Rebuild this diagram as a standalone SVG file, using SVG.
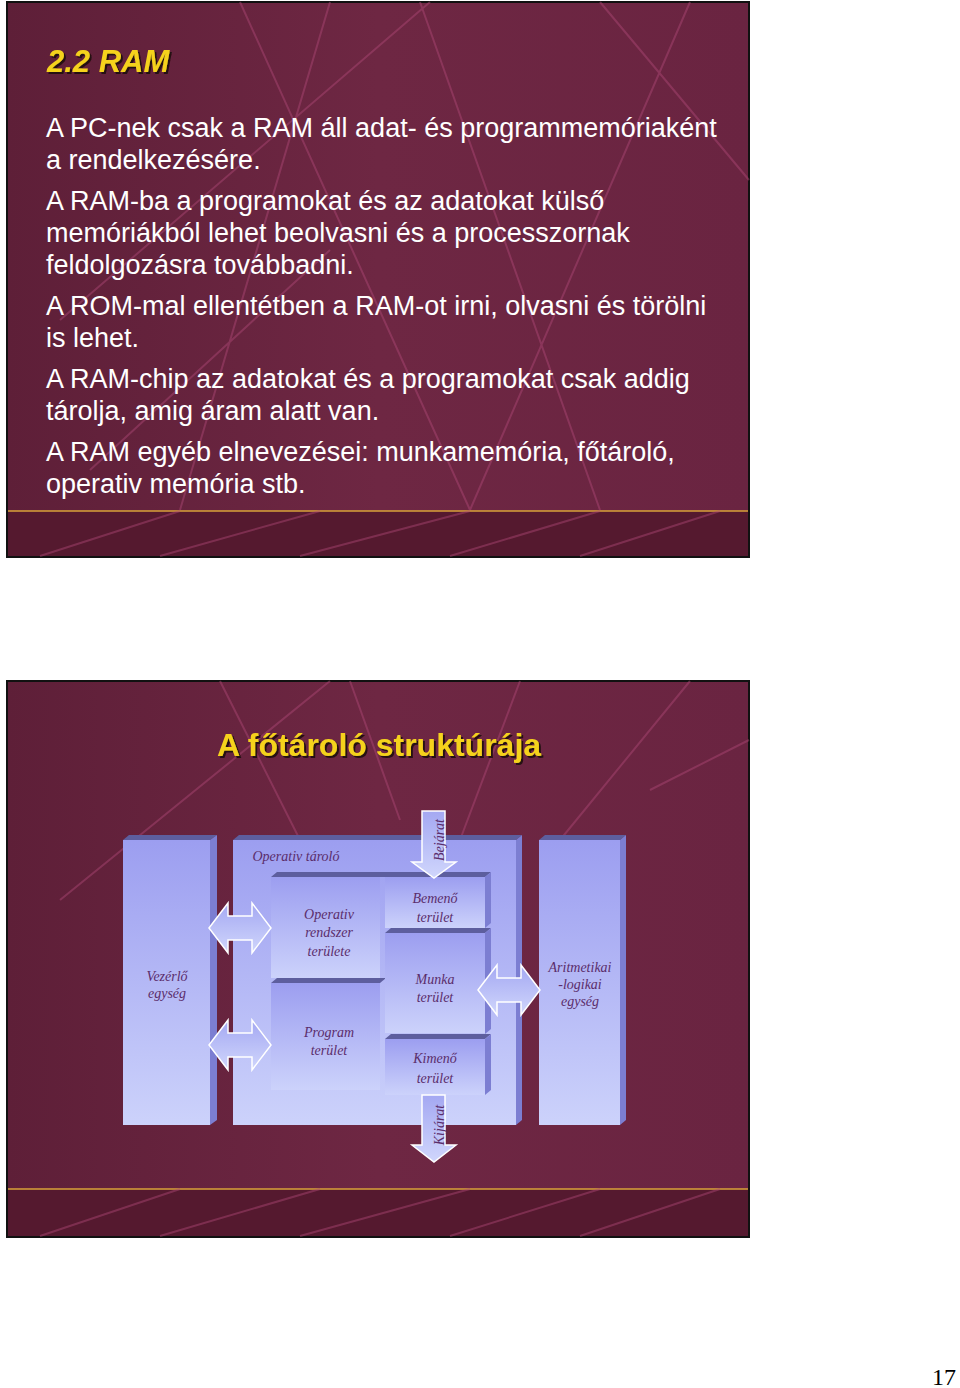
<svg xmlns="http://www.w3.org/2000/svg" width="960" height="1388" viewBox="0 0 960 1388">
<defs>
<linearGradient id="bg" x1="0" y1="0" x2="1" y2="0"><stop offset="0" stop-color="#5e1f38"/><stop offset="0.5" stop-color="#6e2743"/><stop offset="1" stop-color="#6a2441"/></linearGradient>
<linearGradient id="face" x1="0" y1="0" x2="0" y2="1"><stop offset="0" stop-color="#9c9ef0"/><stop offset="1" stop-color="#ccd2fb"/></linearGradient>
<linearGradient id="arw" x1="0" y1="0" x2="0" y2="1"><stop offset="0" stop-color="#a4a8f2"/><stop offset="1" stop-color="#d0d6fc"/></linearGradient>
<filter id="sh" x="-10%" y="-20%" width="120%" height="150%"><feDropShadow dx="2" dy="2" stdDeviation="0.6" flood-color="#1a0a10" flood-opacity="0.9"/></filter>
<style>
.slide{fill:url(#bg);stroke:#111;stroke-width:2}
.band{fill:#55192f}
.gold{stroke:#d9a23a;stroke-width:1.5}
.ln{stroke:#b04a78;stroke-width:2;opacity:.45;fill:none}
.body{font-family:"Liberation Sans",Arial,sans-serif;font-size:27px;fill:#fff}
.ttl{font-family:"Liberation Sans",Arial,sans-serif;font-weight:bold;fill:#f5d21e;filter:url(#sh)}
.f{fill:url(#face)}
.side{fill:#7c7ed2}
.top{fill:#5d5e9e}
.lbl{font-family:"Liberation Serif","Times New Roman",serif;font-style:italic;font-size:14px;fill:#5b2d6b;text-anchor:middle}
.arr{fill:url(#arw);stroke:#fff;stroke-width:1.5}
</style>
</defs>
<g id="slide1">
<rect class="slide" x="7" y="2" width="742" height="555"/>
<path class="ln" d="M60 320 L430 2 M240 2 L470 510 M330 2 L180 510 M420 2 L600 510 M690 2 L470 510 M90 470 L330 250 M600 2 L749 180"/>
<rect class="band" x="8" y="511" width="740" height="45"/>
<line class="gold" x1="8" y1="511" x2="748" y2="511"/>
<path class="ln" d="M40 556 L180 511 M160 556 L320 511 M300 556 L470 511 M450 556 L600 511 M580 556 L720 511"/>
<text class="ttl" x="47" y="72" font-size="31" font-style="italic">2.2 RAM</text>
<text class="body" x="46" y="137">A PC-nek csak a RAM áll adat- és programmemóriaként</text>
<text class="body" x="46" y="169">a rendelkezésére.</text>
<text class="body" x="46" y="210">A RAM-ba a programokat és az adatokat külső</text>
<text class="body" x="46" y="242">memóriákból lehet beolvasni és a processzornak</text>
<text class="body" x="46" y="274">feldolgozásra továbbadni.</text>
<text class="body" x="46" y="315">A ROM-mal ellentétben a RAM-ot irni, olvasni és törölni</text>
<text class="body" x="46" y="347">is lehet.</text>
<text class="body" x="46" y="388">A RAM-chip az adatokat és a programokat csak addig</text>
<text class="body" x="46" y="420">tárolja, amig áram alatt van.</text>
<text class="body" x="46" y="461">A RAM egyéb elnevezései: munkamemória, főtároló,</text>
<text class="body" x="46" y="493">operativ memória stb.</text>
</g>
<g id="slide2">
<rect class="slide" x="7" y="681" width="742" height="556"/>
<path class="ln" d="M60 900 L330 681 M220 681 L300 840 M350 681 L400 820 M520 681 L460 840 M690 681 L560 840 M650 790 L749 740"/>
<rect class="band" x="8" y="1189" width="740" height="47"/>
<line class="gold" x1="8" y1="1189" x2="748" y2="1189"/>
<path class="ln" d="M40 1236 L180 1189 M160 1236 L320 1189 M300 1236 L470 1189 M450 1236 L600 1189 M580 1236 L720 1189"/>
<text class="ttl" x="379" y="756" font-size="32" text-anchor="middle">A főtároló struktúrája</text>
</g>
<g id="vezerlo">
<polygon class="top" points="123,840 129,835 217,835 210,840"/>
<polygon class="side" points="210,840 217,835 217,1120 210,1125"/>
<rect class="f" x="123" y="840" width="87" height="285"/>
<text class="lbl" x="167" y="981">Vezérlő</text><text class="lbl" x="167" y="998">egység</text>
</g>
<g id="operativ-tarolo">
<polygon class="top" points="233,840 239,835 522,835 516,840"/>
<polygon class="side" points="516,840 522,835 522,1120 516,1125"/>
<rect class="f" x="233" y="840" width="283" height="285"/>
<text class="lbl" x="296" y="861" font-size="15">Operativ tároló</text>
</g>
<g id="aritmetikai">
<polygon class="top" points="539,840 545,835 626,835 620,840"/>
<polygon class="side" points="620,840 626,835 626,1120 620,1125"/>
<rect class="f" x="539" y="840" width="81" height="285"/>
<text class="lbl" x="580" y="972">Aritmetikai</text><text class="lbl" x="580" y="989">-logikai</text><text class="lbl" x="580" y="1006">egység</text>
</g>
<g id="oprendszer">
<polygon class="top" points="271,877 277,872 491,872 485,877"/>
<rect class="f" x="271" y="877" width="109" height="101"/>
<text class="lbl" x="329" y="919">Operativ</text><text class="lbl" x="329" y="937">rendszer</text><text class="lbl" x="329" y="956">területe</text>
</g>
<g id="program">
<polygon class="top" points="271,983 277,978 386,978 380,983"/>
<rect class="f" x="271" y="983" width="109" height="107"/>
<text class="lbl" x="329" y="1037">Program</text><text class="lbl" x="329" y="1055">terület</text>
</g>
<g id="bemeno">
<polygon class="side" points="485,877 491,872 491,923 485,928"/>
<rect class="f" x="385" y="877" width="100" height="51"/>
<text class="lbl" x="435" y="903">Bemenő</text><text class="lbl" x="435" y="922">terület</text>
</g>
<g id="munka">
<polygon class="top" points="385,933 391,928 491,928 485,933"/>
<polygon class="side" points="485,933 491,928 491,1029 485,1034"/>
<rect class="f" x="385" y="933" width="100" height="100"/>
<text class="lbl" x="435" y="984">Munka</text><text class="lbl" x="435" y="1002">terület</text>
</g>
<g id="kimeno">
<polygon class="top" points="385,1039 391,1034 491,1034 485,1039"/>
<polygon class="side" points="485,1039 491,1034 491,1090 485,1095"/>
<rect class="f" x="385" y="1039" width="100" height="56"/>
<text class="lbl" x="435" y="1063">Kimenő</text><text class="lbl" x="435" y="1083">terület</text>
</g>
<g id="connectors">
<polygon class="arr" points="422,811 445,811 445,862 456,862 434,878 412,862 422,862"/>
<text class="lbl" font-size="16" transform="translate(444,840) rotate(-90)">Bejárat</text>
<polygon class="arr" points="422,1095 445,1095 445,1145 456,1145 434,1162 412,1145 422,1145"/>
<text class="lbl" font-size="16" transform="translate(444,1125) rotate(-90)">Kijárat</text>
<polygon class="arr" points="209,928 228,903 228,916 252,916 252,903 271,928 252,953 252,940 228,940 228,953"/>
<polygon class="arr" points="209,1045 228,1020 228,1033 252,1033 252,1020 271,1045 252,1070 252,1057 228,1057 228,1070"/>
<polygon class="arr" points="478,990 497,965 497,978 521,978 521,965 540,990 521,1015 521,1002 497,1002 497,1015"/>
</g>
<text x="944" y="1385" font-family="Liberation Serif,serif" font-size="24" text-anchor="middle" fill="#000">17</text>
</svg>
